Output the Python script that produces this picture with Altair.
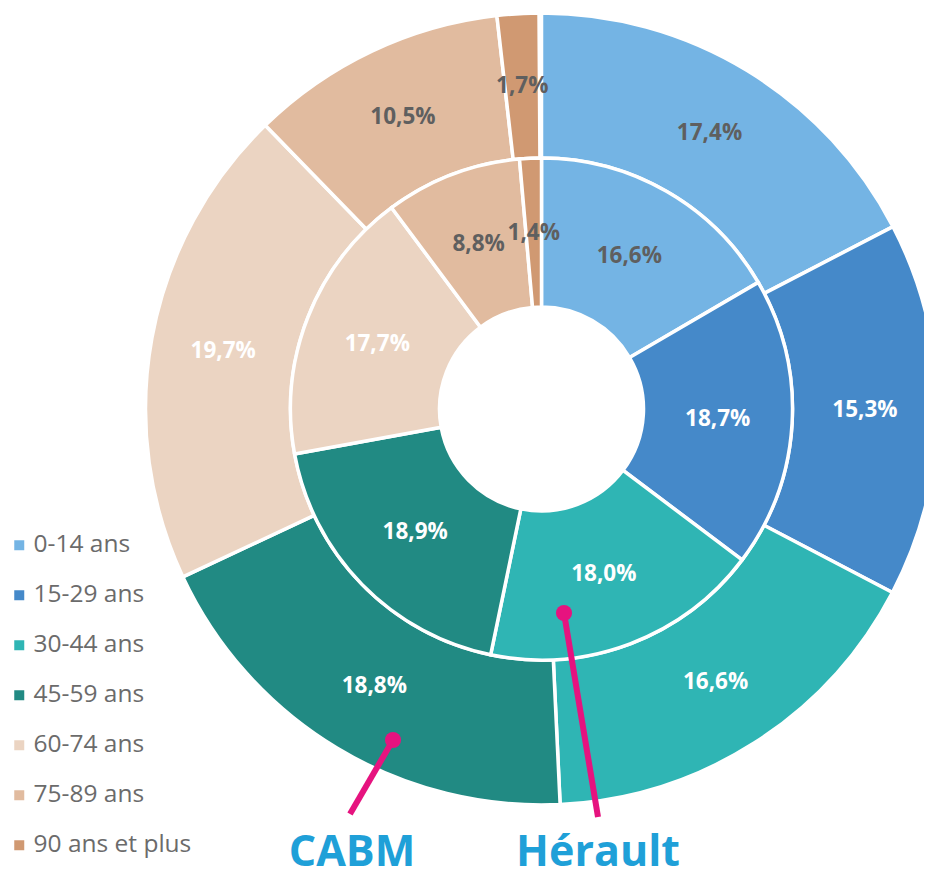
import altair as alt
import pandas as pd

ages = ["0-14 ans", "15-29 ans", "30-44 ans", "45-59 ans", "60-74 ans", "75-89 ans", "90 ans et plus"]
cabm = [17.4, 15.3, 16.6, 18.8, 19.7, 10.5, 1.7]      # outer ring
herault = [16.6, 18.7, 18.0, 18.9, 17.7, 8.8, 1.4]    # inner ring
colors = ["#74B4E4", "#4589C9", "#2FB5B4", "#218A83", "#EBD4C2", "#E1BB9F", "#D09972"]
outer_label_colors = ["#5F5F5F", "#FFFFFF", "#FFFFFF", "#FFFFFF", "#FFFFFF", "#5F5F5F", "#5F5F5F"]
inner_label_colors = ["#5F5F5F", "#FFFFFF", "#FFFFFF", "#FFFFFF", "#FFFFFF", "#5F5F5F", "#5F5F5F"]

def fmt(v):
    return f"{v:.1f}".replace(".", ",") + "%"

outer_df = pd.DataFrame({"age": ages, "value": cabm, "idx": range(7),
                         "label": [fmt(v) for v in cabm], "tcolor": outer_label_colors})
inner_df = pd.DataFrame({"age": ages, "value": herault, "idx": range(7),
                         "label": [fmt(v) for v in herault], "tcolor": inner_label_colors})

CX, CY = 533.5, 401
R_OUT, R_MID, R_IN = 396, 251, 102

color_scale = alt.Scale(domain=ages, range=colors)
legend = alt.Legend(
    title=None, orient="none", legendX=-1, legendY=525, symbolType="square",
    symbolSize=100, symbolStrokeWidth=0, labelFontSize=24.5, labelColor="#6B6B6B",
    labelFont="Open Sans", rowPadding=25, labelOffset=2, padding=0,
)

def ring(df, r2, r1, show_legend):
    return alt.Chart(df).mark_arc(radius=r2, radius2=r1, stroke="white", strokeWidth=3.5).encode(
        theta=alt.Theta("value:Q", stack=True),
        color=alt.Color("age:N", scale=color_scale, sort=ages, legend=legend if show_legend else None),
        order=alt.Order("idx:Q"),
        x=alt.value(CX), y=alt.value(CY),
    )

def labels(df, r):
    return alt.Chart(df).mark_text(radius=r, fontSize=22.5, fontWeight="bold", font="Open Sans").encode(
        theta=alt.Theta("value:Q", stack=True),
        text="label:N",
        order=alt.Order("idx:Q"),
        color=alt.Color("tcolor:N", scale=None),
        x=alt.value(CX), y=alt.value(CY),
    )

ann = pd.DataFrame({
    "name": ["CABM", "Hérault"],
    "x1": [385, 556], "y1": [732, 605],
    "x2": [342, 590], "y2": [806, 809],
    "tx": [344, 590],
})
PINK = "#E6137F"
lines = alt.Chart(ann).mark_rule(color=PINK, strokeWidth=6).encode(
    x=alt.X("x1:Q", scale=None), y=alt.Y("y1:Q", scale=None),
    x2="x2:Q", y2="y2:Q",
)
dots = alt.Chart(ann).mark_circle(color=PINK, opacity=1, size=260).encode(
    x=alt.X("x1:Q", scale=None), y=alt.Y("y1:Q", scale=None),
)
names = alt.Chart(ann).mark_text(color="#1FA0D8", fontSize=43, fontWeight="bold",
                                 font="Open Sans", baseline="alphabetic").encode(
    x=alt.X("tx:Q", scale=None), y=alt.value(858), text="name:N",
)

chart = alt.layer(
    ring(outer_df, R_OUT, R_MID, True),
    ring(inner_df, R_MID, R_IN, False),
    labels(outer_df, (R_OUT + R_MID) / 2),
    labels(inner_df, (R_MID + R_IN) / 2),
    lines, dots, names,
).properties(
    width=916, height=872, padding=0,
    autosize=alt.AutoSizeParams(type="none"),
).configure_view(stroke=None)

chart.save("out.html", embed_options={"renderer": "svg", "actions": False})
